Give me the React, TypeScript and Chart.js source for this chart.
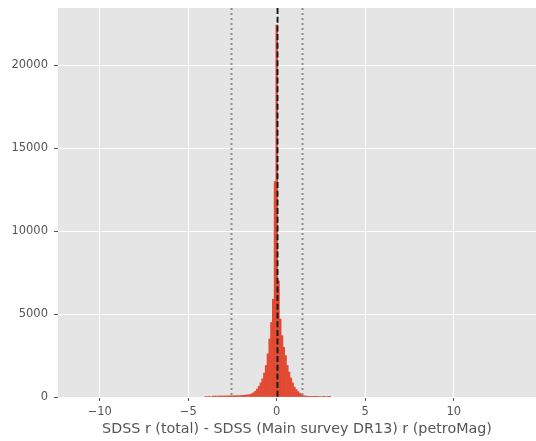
import React, { useEffect, useRef } from "react";
import { Chart, registerables } from "chart.js";

Chart.register(...registerables);

// Histogram bin centres (bin width 0.1)
const binCenters: number[] = [
  -4.0, -3.9, -3.8, -3.7, -3.6, -3.5, -3.4, -3.3, -3.2, -3.1,
  -3.0, -2.9, -2.8, -2.7, -2.6, -2.5, -2.4, -2.3, -2.2, -2.1,
  -2.0, -1.9, -1.8, -1.7, -1.6, -1.5, -1.4, -1.3, -1.2, -1.1,
  -1.0, -0.9, -0.8, -0.7, -0.6, -0.5, -0.4, -0.3, -0.2, -0.1,
  0.0, 0.1, 0.2, 0.3, 0.4, 0.5, 0.6, 0.7, 0.8, 0.9,
  1.0, 1.1, 1.2, 1.3, 1.4, 1.5, 1.6, 1.7, 1.8, 1.9,
  2.0, 2.1, 2.2, 2.3, 2.4, 2.5, 2.6, 2.7, 2.8, 2.9,
  3.0,
];

const binCounts: number[] = [
  40, 0, 45, 0, 50, 55, 50, 55, 60, 55,
  60, 60, 65, 60, 65, 70, 70, 75, 75, 80,
  85, 100, 110, 120, 130, 150, 200, 260, 350, 480,
  650, 850, 1100, 1450, 1900, 2600, 3500, 4500, 5900, 13000,
  22450, 7000, 4700, 3700, 3000, 2500, 1900, 1500, 1150, 850,
  600, 450, 330, 230, 140, 80, 60, 50, 40, 30,
  20, 20, 10, 20, 30, 0, 20, 25, 0, 15,
  10,
];

const xTicks: number[] = [-10, -5, 0, 5, 10];
const yTicks: number[] = [0, 5000, 10000, 15000, 20000];
const xMin = -12.36;
const xMax = 14.65;
const yMax = 23470;

const medianLine = 0.0;
const boundLines: number[] = [-2.57, 1.41];

const xLabel = "SDSS r (total) - SDSS (Main survey DR13) r (petroMag)";

const FONT = "'DejaVu Sans', sans-serif";

export default function App() {
  const ref = useRef<HTMLCanvasElement | null>(null);

  useEffect(() => {
    if (!ref.current) return;

    const bgPlugin = {
      id: "bg",
      beforeDraw(chart: any) {
        const { ctx, chartArea } = chart;
        ctx.save();
        ctx.fillStyle = "#E5E5E5";
        ctx.fillRect(chartArea.left, chartArea.top, chartArea.right - chartArea.left, chartArea.bottom - chartArea.top);
        ctx.restore();
      },
    };

    const linesPlugin = {
      id: "vlines",
      afterDatasetsDraw(chart: any) {
        const { ctx, chartArea, scales } = chart;
        const x = scales.x;
        ctx.save();
        ctx.beginPath();
        ctx.rect(chartArea.left, chartArea.top, chartArea.right - chartArea.left, chartArea.bottom - chartArea.top);
        ctx.clip();
        // dotted grey bounds
        ctx.strokeStyle = "#8c8c8c";
        ctx.lineWidth = 2;
        ctx.setLineDash([2, 3]);
        for (const v of boundLines) {
          const px = Math.round(x.getPixelForValue(v)) + 0.5;
          ctx.beginPath();
          ctx.moveTo(px, chartArea.top);
          ctx.lineTo(px, chartArea.bottom);
          ctx.stroke();
        }
        // dashed black median
        ctx.strokeStyle = "#1a1a1a";
        ctx.lineWidth = 2;
        ctx.setLineDash([6, 2.7]);
        const pm = Math.round(x.getPixelForValue(medianLine)) + 0.5;
        ctx.beginPath();
        ctx.moveTo(pm, chartArea.top);
        ctx.lineTo(pm, chartArea.bottom);
        ctx.stroke();
        ctx.restore();
      },
    };

    const chart = new Chart(ref.current, {
      type: "bar",
      data: {
        datasets: [
          {
            data: binCenters.map((c, i) => ({ x: c, y: binCounts[i] })),
            backgroundColor: "#E24A33",
            borderWidth: 0,
            barPercentage: 1.0,
            categoryPercentage: 1.0,
          } as any,
        ],
      },
      options: {
        animation: false,
        responsive: false,
        maintainAspectRatio: false,
        layout: { padding: { top: 8, right: 0, left: 0, bottom: 0 } },
        plugins: {
          legend: { display: false },
          tooltip: { enabled: false },
        },
        scales: {
          x: {
            type: "linear",
            min: xMin,
            max: xMax,
            offset: false,
            afterBuildTicks: (scale: any) => {
              scale.ticks = xTicks.map((v) => ({ value: v }));
            },
            afterFit: (scale: any) => {
              scale.height = 44;
              scale.paddingLeft = 0;
              scale.paddingRight = 0;
            },
            grid: {
              offset: false,
              color: "#ffffff",
              lineWidth: 1,
              drawTicks: true,
              tickLength: 4,
              tickColor: "#555555",
            },
            border: { display: false },
            ticks: {
              color: "#555555",
              font: { family: FONT, size: 11.5 },
              padding: 4,
              maxRotation: 0,
              autoSkip: false,
              callback: (v: any) => (Number(v) < 0 ? "\u2212" + Math.abs(Number(v)) : String(v)),
            },
            title: {
              display: true,
              text: xLabel,
              color: "#555555",
              font: { family: FONT, size: 14.3 },
              padding: { top: 2, bottom: 3 },
            },
          },
          y: {
            type: "linear",
            min: 0,
            max: yMax,
            afterBuildTicks: (scale: any) => {
              scale.ticks = yTicks.map((v) => ({ value: v }));
            },
            afterFit: (scale: any) => {
              scale.width = 58;
              scale.paddingTop = 0;
              scale.paddingBottom = 0;
            },
            grid: {
              color: "#ffffff",
              lineWidth: 1,
              drawTicks: true,
              tickLength: 4,
              tickColor: "#555555",
            },
            border: { display: false },
            ticks: {
              color: "#555555",
              font: { family: FONT, size: 11.5 },
              padding: 6,
              callback: (v: any) => String(v),
            },
          },
        },
      },
      plugins: [bgPlugin, linesPlugin],
    });

    return () => chart.destroy();
  }, []);

  return (
    <div style={{ position: "absolute", left: 0, top: 0, width: 536, height: 441, background: "#ffffff" }}>
      <canvas ref={ref} width={536} height={441} style={{ display: "block", width: 536, height: 441 }} />
    </div>
  );
}
